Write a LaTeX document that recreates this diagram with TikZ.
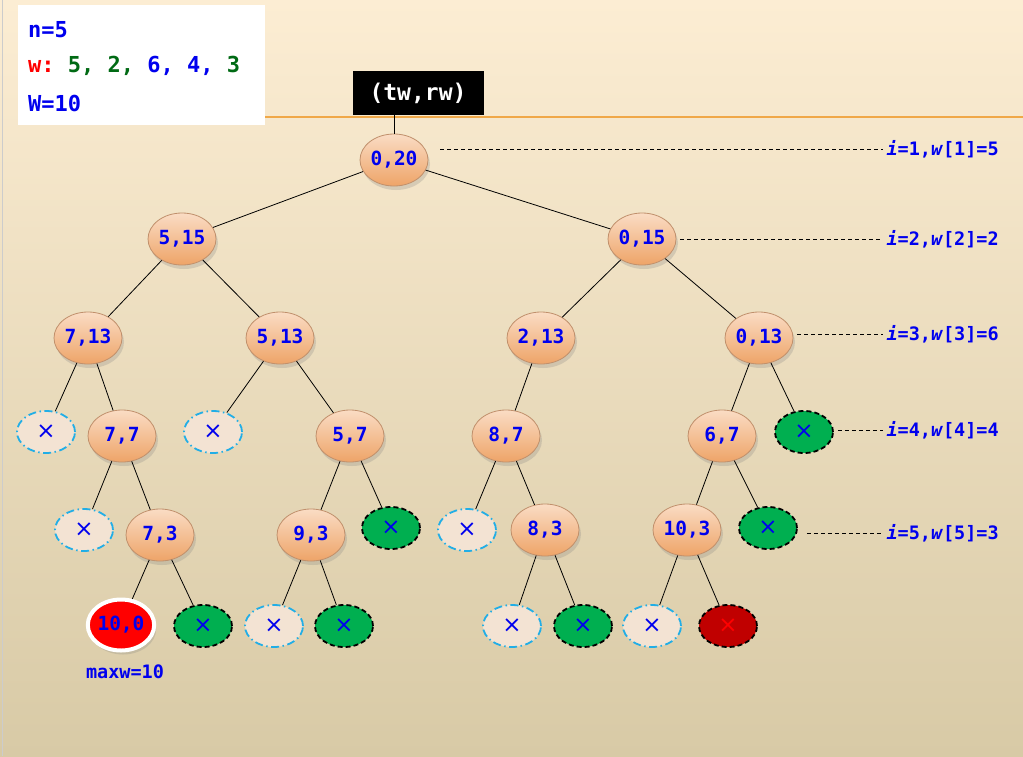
\documentclass[tikz,border=0pt]{standalone}
\usepackage{fontspec}
\setmonofont{DejaVu Sans Mono}[BoldItalicFont={DejaVu Sans Mono Bold Oblique}]
\newfontfamily\symfont{DejaVu Sans}
\usetikzlibrary{shapes.geometric,shadows}

\definecolor{bgtop}{HTML}{FCEDD3}
\definecolor{bgbot}{HTML}{D8CAA6}
\definecolor{peachtop}{HTML}{FADCC4}
\definecolor{peachbot}{HTML}{EEA468}
\definecolor{peachline}{HTML}{C0906C}
\definecolor{txtblue}{HTML}{0000EE}
\definecolor{txtgreen}{HTML}{006A14}
\definecolor{cutfill}{HTML}{F3E3D3}
\definecolor{cutline}{HTML}{22AEE6}
\definecolor{okgreen}{HTML}{00AF50}
\definecolor{darkred}{HTML}{C00000}
\definecolor{topline}{HTML}{F0A848}

\begin{document}
\begin{tikzpicture}[x=1pt,y=-1pt,
   state/.style={ellipse,draw=peachline,line width=0.8pt,top color=peachtop,bottom color=peachbot,
      minimum width=68pt,minimum height=52pt,inner sep=0pt,text=txtblue,
      font=\ttfamily\bfseries\fontsize{19.5}{19.5}\selectfont,
      drop shadow={opacity=0.25,shadow xshift=2pt,shadow yshift=-4pt}},
   cut/.style={ellipse,draw=cutline,fill=cutfill,line width=1.8pt,
      dash pattern=on 8pt off 3.5pt on 1.5pt off 3.5pt,
      minimum width=58pt,minimum height=42pt,inner sep=0pt,text=txtblue,
      font=\symfont\fontsize{23}{23}\selectfont},
   over/.style={cut,draw=black,fill=okgreen,dash pattern=on 5pt off 3pt},
   best/.style={ellipse,fill=red,draw=white,line width=4pt,
      minimum width=66pt,minimum height=51pt,inner sep=0pt,text=txtblue,
      font=\ttfamily\bfseries\fontsize{19.5}{19.5}\selectfont,
      drop shadow={opacity=0.25,shadow xshift=2pt,shadow yshift=-4pt}},
   edge/.style={line width=0.8pt},
   lvl/.style={anchor=west,text=txtblue,font=\ttfamily\bfseries\fontsize{18.5}{18.5}\selectfont},
   guide/.style={dash pattern=on 4pt off 3pt,line width=1pt},
   info/.style={anchor=west,inner sep=0pt,font=\ttfamily\bfseries\fontsize{22}{22}\selectfont}]

   % background
   \shade[top color=bgtop,bottom color=bgbot] (0,0) rectangle (1023,756);
   \useasboundingbox (0,0) rectangle (1023,756);
   \draw[gray!40,line width=1pt] (2,0) -- (2,756);
   \draw[topline,line width=1.5pt] (265,117) -- (1023,117);

   % data box
   \fill[white] (18,5) rectangle (265,125);
   \node[info,text=txtblue] (n) at (28,30) {n=5};
   \node[info] (w) at (28,66) {\textcolor{red}{w:} \textcolor{txtgreen}{5, 2,} \textcolor{txtblue}{6, 4,} \textcolor{txtgreen}{3}};
   \node[info,text=txtblue] (cap) at (28,103) {W=10};

   \node[fill=black,text=white,minimum width=131pt,minimum height=44pt,inner sep=0pt,
      font=\ttfamily\bfseries\fontsize{23}{23}\selectfont] (hdr) at (418,93) {(tw,rw)};

   % tree
   \node[state] (root) at (394,160) {0,20};
   \node[state] (a515) at (182,239) {5,15};
   \node[state] (a015) at (642,239) {0,15};

   \node[state] (a713) at (88,338) {7,13};
   \node[state] (a513) at (280,338) {5,13};
   \node[state] (a213) at (541,338) {2,13};
   \node[state] (a013) at (759,338) {0,13};

   \node[cut] (c1) at (46,432) {×};
   \node[state] (a77) at (122,436) {7,7};
   \node[cut] (c2) at (213,432) {×};
   \node[state] (a57) at (350,436) {5,7};
   \node[state] (a87) at (506,436) {8,7};
   \node[state] (a67) at (722,436) {6,7};
   \node[over] (g1) at (804,432) {×};

   \node[cut] (c3) at (84,530) {×};
   \node[state] (a73) at (160,535) {7,3};
   \node[state] (a93) at (311,535) {9,3};
   \node[over] (g2) at (391,528) {×};
   \node[cut] (c4) at (467,530) {×};
   \node[state] (a83) at (545,530) {8,3};
   \node[state] (a103) at (687,530) {10,3};
   \node[over] (g3) at (768,528) {×};

   \node[best] (a100) at (121,625) {10,0};
   \node[over] (g4) at (203,626) {×};
   \node[cut] (c5) at (274,626) {×};
   \node[over] (g5) at (344,626) {×};
   \node[cut] (c6) at (512,626) {×};
   \node[over] (g6) at (583,626) {×};
   \node[cut] (c7) at (652,626) {×};
   \node[over,fill=darkred,text=red] (g7) at (728,626) {×};

   \node[text=txtblue,font=\ttfamily\bfseries\fontsize{18.5}{18.5}\selectfont] (maxw) at (125,672) {maxw=10};

   \draw[edge] (root.north) -- (root.north |- hdr.south);
   \draw[edge] (root) -- (a515);
   \draw[edge] (root) -- (a015);
   \draw[edge] (a515) -- (a713);
   \draw[edge] (a515) -- (a513);
   \draw[edge] (a015) -- (a213);
   \draw[edge] (a015) -- (a013);
   \draw[edge] (a713) -- (c1);
   \draw[edge] (a713) -- (a77);
   \draw[edge] (a513) -- (c2);
   \draw[edge] (a513) -- (a57);
   \draw[edge] (a213) -- (a87);
   \draw[edge] (a013) -- (a67);
   \draw[edge] (a013) -- (g1);
   \draw[edge] (a77) -- (c3);
   \draw[edge] (a77) -- (a73);
   \draw[edge] (a57) -- (a93);
   \draw[edge] (a57) -- (g2);
   \draw[edge] (a87) -- (c4);
   \draw[edge] (a87) -- (a83);
   \draw[edge] (a67) -- (a103);
   \draw[edge] (a67) -- (g3);
   \draw[edge] (a73) -- (a100);
   \draw[edge] (a73) -- (g4);
   \draw[edge] (a93) -- (c5);
   \draw[edge] (a93) -- (g5);
   \draw[edge] (a83) -- (c6);
   \draw[edge] (a83) -- (g6);
   \draw[edge] (a103) -- (c7);
   \draw[edge] (a103) -- (g7);

   % levels
   \node[lvl] (l1) at (883,149) {\textit{i}=1,\textit{w}[1]=5};
   \node[lvl] (l2) at (883,239) {\textit{i}=2,\textit{w}[2]=2};
   \node[lvl] (l3) at (883,334) {\textit{i}=3,\textit{w}[3]=6};
   \node[lvl] (l4) at (883,430) {\textit{i}=4,\textit{w}[4]=4};
   \node[lvl] (l5) at (883,533) {\textit{i}=5,\textit{w}[5]=3};

   \draw[guide] ([xshift=12pt]l1.west -| root.east) -- (l1.west);
   \draw[guide] ([xshift=4pt]l2.west -| a015.east) -- (l2.west);
   \draw[guide] ([xshift=4pt]l3.west -| a013.east) -- (l3.west);
   \draw[guide] ([xshift=4pt]l4.west -| g1.east) -- (l4.west);
   \draw[guide] ([xshift=9pt]l5.west -| g3.east) -- (l5.west);
\end{tikzpicture}
\end{document}
